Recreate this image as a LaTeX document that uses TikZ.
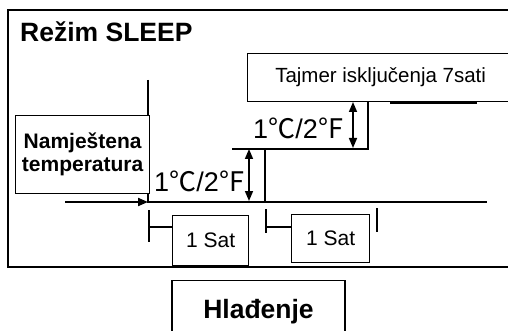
\documentclass[tikz,border=0pt]{standalone}
\usepackage{fontspec}
\setmainfont{Liberation Sans}
\newfontfamily\cjk{Noto Sans CJK SC}
\usetikzlibrary{arrows.meta, positioning}
\tikzset{
  frameline/.style={draw=black, line width=2pt},
  stepline/.style={draw=black, line width=2pt},
  tickline/.style={draw=black, line width=2pt},
  labelbox/.style={draw=black, line width=1.3pt, fill=white, inner sep=0pt, align=center},
  levelarrow/.style={{Triangle[length=10pt,width=8pt]}-{Triangle[length=10pt,width=8pt]}, line width=1.6pt},
  feedarrow/.style={-{Triangle[length=10pt,width=8pt]}, line width=2pt},
  deglabel/.style={inner sep=0pt, font=\fontsize{27}{29}\selectfont}
}

\begin{document}
\begin{tikzpicture}[x=1pt, y=-1pt]
  \useasboundingbox (0,0) rectangle (508,331);
  \clip (0,0) rectangle (508,331);

  % ---- Outer frame and title ----------------------------------------------
  \draw[frameline] (520,10) -- (8,10) -- (8,267) -- (520,267);
  \node[anchor=base west, inner sep=0pt, font=\fontsize{26.5}{30}\selectfont\bfseries]
    (title) at (20,42) {Režim SLEEP};

  % ---- Levels of the set temperature --------------------------------------
  \coordinate (lvl0) at (148,202);
  \coordinate (lvl0end) at (487,202);
  \coordinate (rise1) at (265,202);
  \coordinate (lvl1) at (265,149);
  \coordinate (lvl1a) at (232,149);
  \coordinate (rise2) at (368,149);
  \coordinate (lvl2) at (368,101);
  \coordinate (lvl2a) at (390,103);
  \coordinate (lvl2b) at (477,103);
  \coordinate (axtop) at (148,80);

  \draw[stepline] (axtop) -- (lvl0) -- (lvl0end);
  \draw[stepline] (rise1) -- (lvl1);
  \draw[stepline] (lvl1a) -- (rise2) -- (lvl2);
  \draw[stepline, line width=1.4pt] (lvl2a) -- (lvl2b);

  % ---- Boxes -------------------------------------------------------------
  \node[labelbox, anchor=north west, minimum width=134pt, minimum height=78pt,
        font=\fontsize{21}{23}\selectfont\bfseries]
    (setbox) at (15,115) {Namještena\\temperatura};
  \node[labelbox, anchor=north west, minimum width=266pt, minimum height=48pt,
        font=\fontsize{20.5}{23}\selectfont]
    (timer) at (247,53) {Tajmer isključenja 7sati};

  \coordinate (feed) at (65,202);
  \draw[feedarrow] (feed) -- (lvl0);

  % ---- Step sizes ---------------------------------------------------------
  \coordinate (up1a) at (249,149);
  \coordinate (up1b) at (249,201);
  \coordinate (up2a) at (353,102);
  \coordinate (up2b) at (353,148);
  \draw[levelarrow] (up1a) -- (up1b);
  \draw[levelarrow] (up2a) -- (up2b);
  \node[deglabel] (deg1) at (200,181) {1{\cjk ℃}/2{\cjk ℉}};
  \node[deglabel] (deg2) at (299,128) {1{\cjk ℃}/2{\cjk ℉}};

  % ---- One hour marks -----------------------------------------------------
  \node[labelbox, anchor=north west, minimum width=76pt, minimum height=50pt,
        font=\fontsize{21}{24}\selectfont]
    (sat1) at (172,215) {1 Sat};
  \node[labelbox, anchor=north west, minimum width=78pt, minimum height=48pt,
        font=\fontsize{21}{24}\selectfont]
    (sat2) at (291,214) {1 Sat};

  \coordinate (bar1a) at (149,210);
  \coordinate (bar1b) at (149,242);
  \coordinate (bar1m) at (149,227);
  \coordinate (bar2a) at (266,209);
  \coordinate (bar2b) at (266,233);
  \coordinate (bar2m) at (266,227);
  \coordinate (bar3a) at (377,208);
  \coordinate (bar3b) at (377,232);
  \draw[tickline] (bar1a) -- (bar1b);
  \draw[tickline] (bar1m) -- (sat1.west |- bar1m);
  \draw[tickline] (bar2a) -- (bar2b);
  \draw[tickline] (bar2m) -- (sat2.west |- bar2m);
  \draw[tickline] (bar3a) -- (bar3b);

  % ---- Operating mode -----------------------------------------------------
  \node[labelbox, anchor=north, minimum width=173pt, minimum height=62pt,
        font=\fontsize{26.5}{30}\selectfont\bfseries]
    (mode) at (258.5,280) {Hlađenje};

\end{tikzpicture}
\end{document}
